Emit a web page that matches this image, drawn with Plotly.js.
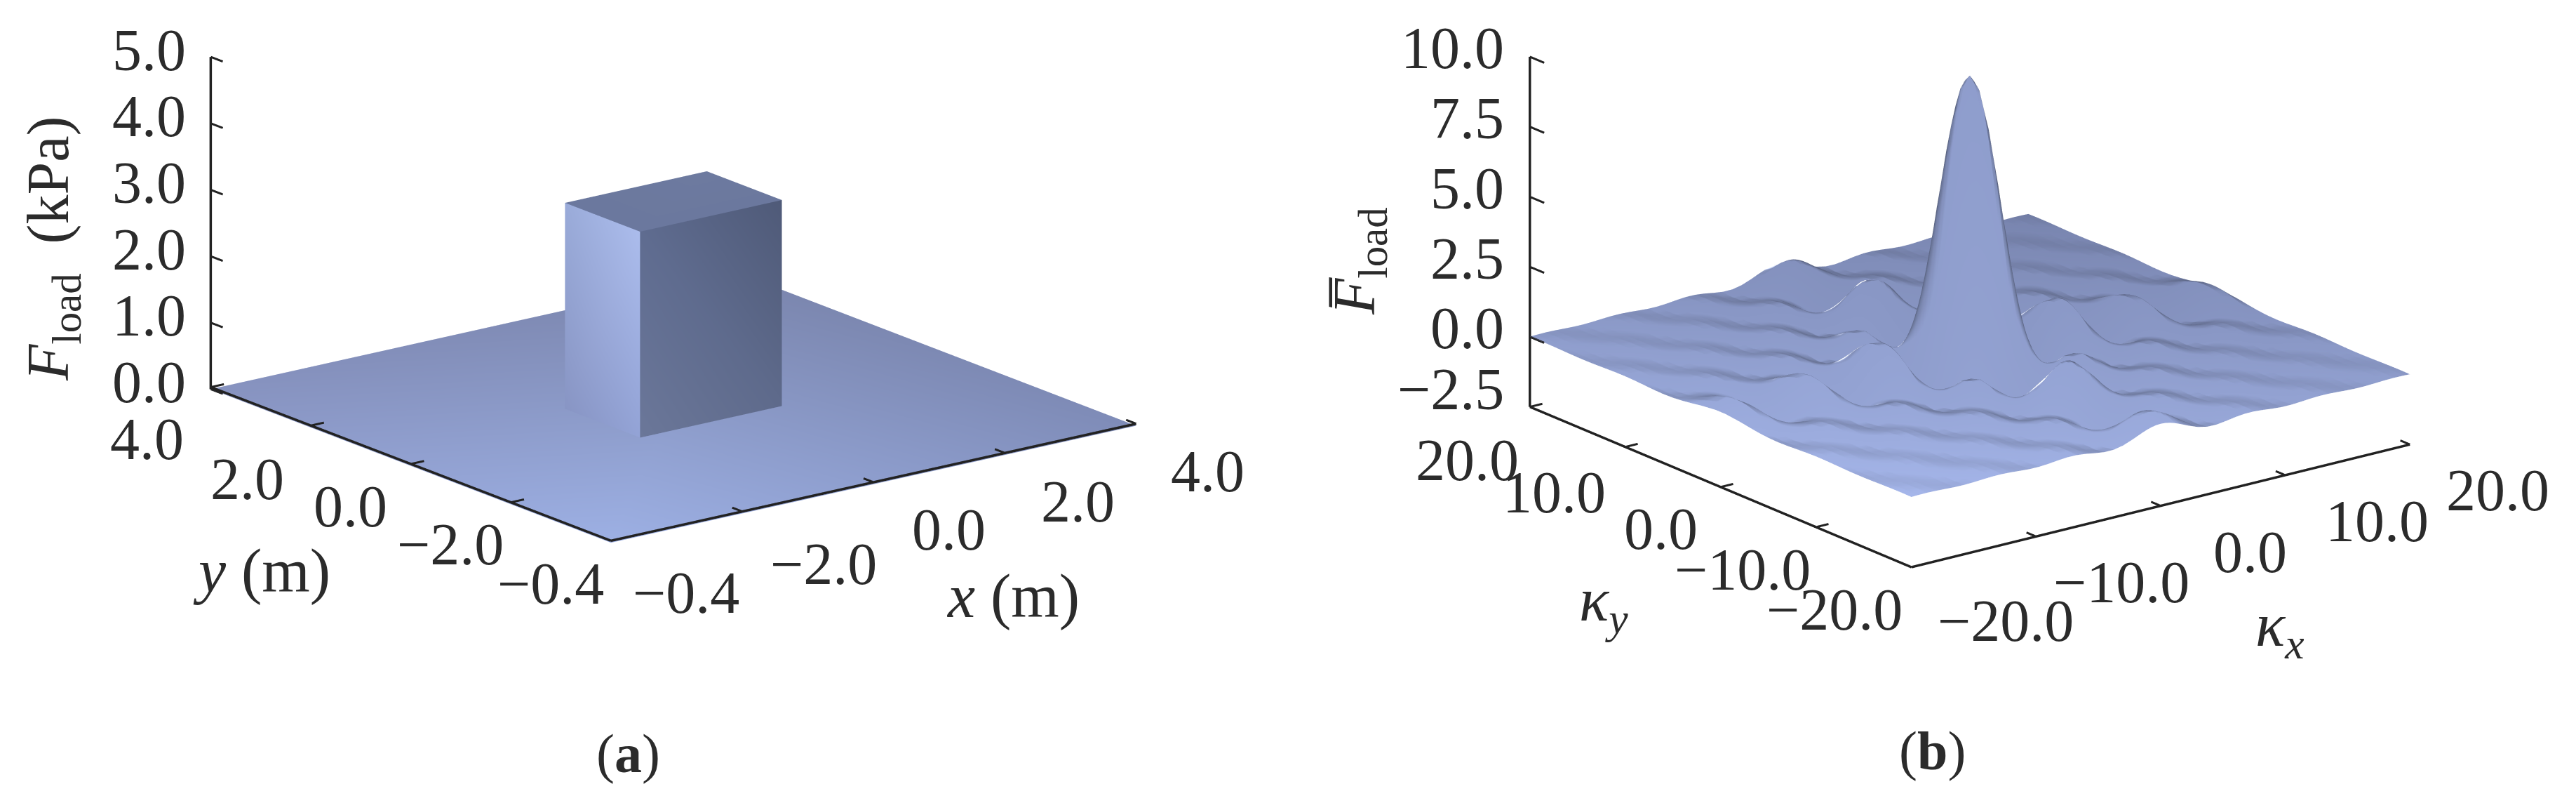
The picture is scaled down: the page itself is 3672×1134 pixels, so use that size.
<!DOCTYPE html>
<html><head><meta charset="utf-8"><script src="https://cdn.plot.ly/plotly-3.0.1.min.js"></script>
<style>html,body{margin:0;padding:0;background:#fff}</style></head><body><div id="g" style="width:3672px;height:1134px"></div>
<script>
// Panel (a): load plane and block
const blockHalfX=1.08, blockHalfY=0.75, blockHeight=3.1;
const meshX=[-4,4,4,-4, -blockHalfX,-blockHalfX,-blockHalfX,-blockHalfX, -blockHalfX,blockHalfX,blockHalfX,-blockHalfX, -blockHalfX,blockHalfX,blockHalfX,-blockHalfX];
const meshY=[-4,-4,4,4, -blockHalfY,blockHalfY,blockHalfY,-blockHalfY, -blockHalfY,-blockHalfY,-blockHalfY,-blockHalfY, -blockHalfY,-blockHalfY,blockHalfY,blockHalfY];
const meshZ=[0,0,0,0, blockHeight,blockHeight,0,0, blockHeight,blockHeight,0,0, blockHeight,blockHeight,blockHeight,blockHeight];
const meshColor=['#9db0e4','#7f8cb8','#7b86ae','#8793c0', '#abbcec','#9aabd9','#8895c4','#93a3d6', '#5f6c90','#4f5a78','#5e6a8b','#6b7799', '#6b789e','#6b789e','#6d7a9f','#6b789e'];
const meshI=[0,0,4,4,8,8,12,12], meshJ=[1,2,5,6,9,10,13,14], meshK=[2,3,6,7,10,11,14,15];
// Panel (b): spectrum, one quadrant (rows: ky, columns: kx)
const kxHalf=[0,.375,.75,1.125,1.5,1.875,2.25,3,3.75,4.5,5.25,6,6.75,7.5,8.25,9,9.75,10.5,11.25,12,12.75,13.5,14.25,15,15.75,16.5,17.25,18,18.75,19.5,20];
const kyHalf=[0,.5,1,1.5,2,2.5,3,4,5,6,7,8,9,10,11,12,13,14,15,16,17,18,19,20];
const zQuadrant=[
[10,9.73,8.94,7.71,6.17,4.44,2.69,-.30,-1.95,-2.04,-1.01,.30,1.16,1.20,.55,-.30,-.85,-.83,-.33,.30,.68,.62,.20,-.29,-.57,-.48,-.12,.29,.49,.38,.18],
[9.77,9.51,8.73,7.53,6.03,4.34,2.63,-.29,-1.91,-1.99,-.99,.29,1.13,1.17,.54,-.29,-.83,-.81,-.32,.29,.66,.61,.20,-.28,-.56,-.47,-.12,.28,.48,.37,.18],
[9.09,8.84,8.13,7.01,5.61,4.04,2.45,-.27,-1.77,-1.85,-.92,.27,1.05,1.09,.50,-.27,-.77,-.75,-.30,.27,.62,.56,.18,-.26,-.52,-.44,-.11,.26,.45,.35,.16],
[8.02,7.80,7.17,6.18,4.95,3.56,2.16,-.24,-1.56,-1.64,-.81,.24,.93,.96,.44,-.24,-.68,-.67,-.26,.24,.55,.50,.16,-.23,-.46,-.38,-.10,.23,.39,.30,.14],
[6.65,6.47,5.95,5.13,4.10,2.95,1.79,-.20,-1.30,-1.36,-.67,.20,.77,.80,.37,-.20,-.57,-.55,-.22,.20,.45,.41,.13,-.19,-.38,-.32,-.08,.19,.33,.25,.12],
[5.09,4.95,4.55,3.92,3.14,2.26,1.37,-.15,-.99,-1.04,-.51,.15,.59,.61,.28,-.15,-.43,-.42,-.17,.15,.35,.32,.10,-.15,-.29,-.24,-.06,.15,.25,.19,.09],
[3.46,3.37,3.09,2.67,2.13,1.54,.93,-.10,-.67,-.71,-.35,.10,.40,.42,.19,-.10,-.29,-.29,-.11,.10,.24,.21,.07,-.10,-.20,-.17,-.04,.10,.17,.13,.06],
[.47,.457,.42,.362,.29,.209,.13,-.014,-.09,-.096,-.047,.014,.055,.056,.026,-.014,-.04,-.039,-.016,.014,.032,.029,.009,-.014,-.027,-.023,-.006,.014,.023,.018,.008],
[-1.52,-1.48,-1.36,-1.17,-.94,-.675,-.41,.046,.30,.31,.154,-.046,-.176,-.182,-.084,.046,.129,.126,.05,-.046,-.103,-.094,-.03,.044,.087,.073,.018,-.044,-.074,-.058,-.027],
[-2.17,-2.11,-1.94,-1.67,-1.34,-.96,-.58,.065,.42,.44,.22,-.065,-.25,-.26,-.119,.065,.184,.18,.072,-.065,-.148,-.135,-.043,.063,.124,.104,.026,-.063,-.106,-.082,-.039],
[-1.64,-1.60,-1.47,-1.26,-1.01,-.73,-.44,.049,.32,.33,.166,-.049,-.19,-.197,-.09,.049,.139,.136,.054,-.049,-.112,-.102,-.033,.048,.093,.079,.02,-.048,-.08,-.062,-.03],
[-.47,-.457,-.42,-.362,-.29,-.209,-.126,.014,.092,.096,.047,-.014,-.055,-.056,-.026,.014,.04,.039,.016,-.014,-.032,-.029,-.009,.014,.027,.023,.006,-.014,-.023,-.018,-.008],
[.67,.652,.60,.517,.41,.297,.18,-.02,-.131,-.137,-.068,.02,.078,.08,.037,-.02,-.057,-.056,-.022,.02,.046,.042,.013,-.019,-.038,-.032,-.008,.019,.033,.025,.012],
[1.25,1.22,1.12,.964,.77,.555,.34,-.038,-.244,-.255,-.126,.038,.145,.15,.069,-.038,-.106,-.104,-.041,.038,.085,.078,.025,-.036,-.071,-.06,-.015,.036,.061,.048,.023],
[1.12,1.09,1.00,.864,.69,.497,.30,-.034,-.218,-.228,-.113,.034,.13,.134,.062,-.034,-.095,-.093,-.037,.034,.076,.069,.022,-.032,-.064,-.054,-.013,.032,.055,.043,.02],
[.46,.448,.41,.355,.28,.204,.124,-.014,-.09,-.094,-.046,.014,.053,.055,.025,-.014,-.039,-.038,-.015,.014,.031,.029,.009,-.013,-.026,-.022,-.006,.013,.023,.017,.008],
[-.33,-.321,-.295,-.254,-.204,-.147,-.089,.01,.064,.067,.033,-.01,-.038,-.04,-.018,.01,.028,.027,.011,-.01,-.022,-.02,-.007,.01,.019,.016,.004,-.01,-.016,-.013,-.006],
[-.84,-.817,-.75,-.648,-.52,-.373,-.226,.025,.164,.171,.085,-.025,-.097,-.101,-.046,.025,.071,.07,.028,-.025,-.057,-.052,-.017,.024,.048,.04,.01,-.024,-.041,-.032,-.015],
[-.86,-.837,-.77,-.663,-.53,-.382,-.231,.026,.168,.175,.087,-.026,-.1,-.103,-.047,.026,.073,.071,.028,-.026,-.058,-.053,-.017,.025,.049,.041,.01,-.025,-.042,-.033,-.015],
[-.45,-.438,-.40,-.347,-.278,-.2,-.121,.014,.088,.092,.045,-.014,-.052,-.054,-.025,.014,.038,.037,.015,-.014,-.031,-.028,-.009,.013,.026,.022,.005,-.013,-.022,-.017,-.008],
[.14,.136,.125,.108,.086,.062,.038,-.004,-.027,-.029,-.014,.004,.016,.017,.008,-.004,-.012,-.012,-.005,.004,.01,.009,.003,-.004,-.008,-.007,-.002,.004,.007,.005,.003],
[.60,.584,.54,.463,.37,.266,.161,-.018,-.117,-.122,-.061,.018,.07,.072,.033,-.018,-.051,-.05,-.02,.018,.041,.037,.012,-.017,-.034,-.029,-.007,.017,.029,.023,.011],
[.70,.681,.626,.54,.432,.311,.188,-.021,-.137,-.143,-.071,.021,.081,.084,.039,-.021,-.06,-.058,-.023,.021,.048,.043,.014,-.02,-.04,-.034,-.008,.02,.034,.027,.013],
[.43,.418,.384,.332,.265,.191,.116,-.013,-.084,-.088,-.043,.013,.05,.052,.024,-.013,-.037,-.036,-.014,.013,.029,.027,.009,-.012,-.025,-.021,-.005,.012,.021,.016,.008]];
// Tick values and labels
const aXYTicks=[-4,-2,0,2,4], aXYLabels=['−0.4','−2.0','0.0','2.0','4.0'];
const aZTicks=[0,1,2,3,4,5], aZLabels=['0.0','1.0','2.0','3.0','4.0','5.0'];
const bXYTicks=[-20,-10,0,10,20], bXYLabels=['−20.0','−10.0','0.0','10.0','20.0'];
const bZTicks=[-2.5,0,2.5,5,7.5,10], bZLabels=['−2.5','0.0','2.5','5.0','7.5','10.0'];

const mirror=a=>[...a.slice(1).reverse(),...a];
const kxFull=[...kxHalf.slice(1).reverse().map(v=>-v),...kxHalf];
const kyFull=[...kyHalf.slice(1).reverse().map(v=>-v),...kyHalf];
const zFull=mirror(zQuadrant.map(mirror));
const shadeFull=kyFull.map(y=>kxFull.map(x=>x+y)); // front-to-back tint of the sheet

const FONT='"Liberation Serif","Times New Roman",serif', INK='#2b2b2b', TS=84;
const hidden={showgrid:false,zeroline:false,showbackground:false,showspikes:false,showticklabels:false,showline:false,ticks:'',title:{text:''}};
// axis frame drawn through the scene's own scales: one trace per spine and per tick mark
function frame(scene,xyTicks,zTicks,lo,hi,z0,zTop,tx,tz,lift){
 const out=[];const seg=(a,b,w)=>out.push({type:'scatter3d',scene,mode:'lines',x:[a[0],b[0]],y:[a[1],b[1]],z:[a[2],b[2]],line:{color:'#222',width:w},hoverinfo:'skip'});
 const b=z0+lift;
 seg([lo,lo,b],[hi,lo,b],7);seg([lo,lo,b],[lo,hi,b],7);seg([lo,hi,z0],[lo,hi,zTop],7);
 xyTicks.forEach(t=>{seg([t,lo,b],[t,lo+tx,b],6);seg([lo,t,b],[lo+tx,t,b],6);});
 zTicks.forEach(t=>seg([lo,hi,t],[lo,hi-tz,t],6));
 return out;
}
const tick=(x,y,z,text,xs,ys,xa)=>({x,y,z,text,showarrow:false,xshift:xs,yshift:ys,xanchor:xa||'center',yanchor:'middle',font:{family:FONT,size:TS,color:INK}});
const aShiftX=[[107,-71],[116,-72],[107,-65],[104,-66],[102,-65]], aShiftY=[[-86,-58],[-86,-57],[-86,-58],[-91,-73],[-91,-71]];
const bShiftX=[[134,-76],[122,-65],[128,-66],[131,-66],[125,-65]], bShiftY=[[-110,-60],[-105,-61],[-85,-60],[-101,-65],[-89,-76]];
const aAnn=[...aXYTicks.map((t,i)=>tick(t,-4,0,aXYLabels[i],...aShiftX[i])),
 ...aXYTicks.map((t,i)=>tick(-4,t,0,aXYLabels[i],...aShiftY[i])),
 ...aZTicks.map((t,i)=>tick(-4,4,t,aZLabels[i],-34,10,'right'))];
const bAnn=[...bXYTicks.map((t,i)=>tick(t,-20,-2.5,bXYLabels[i],...bShiftX[i])),
 ...bXYTicks.map((t,i)=>tick(-20,t,-2.5,bXYLabels[i],...bShiftY[i])),
 ...bZTicks.map((t,i)=>tick(-20,20,t,bZLabels[i],-35,i==0?25:12,'right'))];
const W=3672,H=1134;
const lab=(px,py,text,size,angle)=>({xref:'paper',yref:'paper',x:px/W,y:1-py/H,text,showarrow:false,xanchor:'center',yanchor:'middle',textangle:angle||0,font:{family:FONT,size,color:INK}});
const traces=[
 {type:'mesh3d',scene:'scene',x:meshX,y:meshY,z:meshZ,i:meshI,j:meshJ,k:meshK,vertexcolor:meshColor,lighting:{ambient:1,diffuse:0,specular:0,fresnel:0,roughness:1},flatshading:false,hoverinfo:'skip'},
 ...frame('scene',aXYTicks,aZTicks,-4,4,0,5,.2,.24,.03),
 {type:'surface',scene:'scene2',x:kxFull,y:kyFull,z:zFull,surfacecolor:shadeFull,cmin:-40,cmax:40,showscale:false,colorscale:[[0,'#a5b6ea'],[1,'#7884ae']],hoverinfo:'skip',
  lighting:{ambient:.5,diffuse:.95,specular:1,roughness:.2,fresnel:.05},lightposition:{x:-6000,y:2000,z:-2500}},
 ...frame('scene2',bXYTicks,bZTicks,-20,20,-2.5,10,1,1.5,0)
];
const layout={width:W,height:H,margin:{l:0,r:0,t:0,b:0},paper_bgcolor:'#fff',showlegend:false,
 scene:{domain:{x:[0.0681,0.4548],y:[0,1]},aspectmode:'manual',aspectratio:{x:1.7015,y:1.7015,z:0.8939},
  camera:{projection:{type:'orthographic'},up:{x:0,y:0,z:1},center:{x:0,y:0,z:-0.4116},eye:{x:-1.274,y:-1.672,z:0.2307}},
  xaxis:{...hidden,range:[-4.1,4.1]},yaxis:{...hidden,range:[-4.1,4.1]},zaxis:{...hidden,range:[-0.06,5.06]},annotations:aAnn},
 scene2:{domain:{x:[0.5294,1],y:[0,1]},aspectmode:'manual',aspectratio:{x:1.6175,y:1.6175,z:0.9513},
  camera:{projection:{type:'orthographic'},up:{x:0,y:0,z:1},center:{x:0,y:0,z:-0.391},eye:{x:-1.266,y:-1.654,z:0.316}},
  xaxis:{...hidden,range:[-20.5,20.5]},yaxis:{...hidden,range:[-20.5,20.5]},zaxis:{...hidden,range:[-2.65,10.15]},annotations:bAnn},
 annotations:[
  lab(373,813,'<i>y</i> (m)',88),lab(1444,849,'<i>x</i> (m)',88),
  lab(75,354,'<i>F</i><sub>load</sub>  (kPa)',84,-90),
  lab(2286,860,'<i>κ</i><sub><i>y</i></sub>',88),lab(3250,896,'<i>κ</i><sub><i>x</i></sub>',88),
  lab(1937,372,'<i>F̅</i><sub>load</sub>',84,-90),
  lab(895,1073,'(<b>a</b>)',78),lab(2754,1069,'(<b>b</b>)',78)]
};
Plotly.newPlot('g',traces,layout,{displayModeBar:false});
</script></body></html>
